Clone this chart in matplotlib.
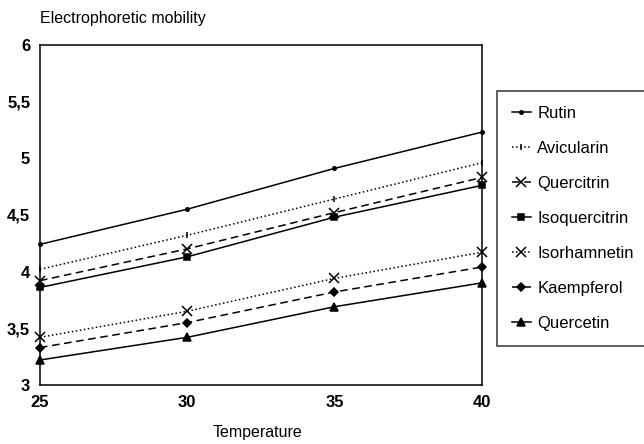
import matplotlib
matplotlib.use("Agg")
import matplotlib.pyplot as plt

plt.rcParams['font.family'] = ['Liberation Sans', 'DejaVu Sans']

# Temperature values
temps = [25, 30, 35, 40]

# Electrophoretic mobility per compound
rutin = [4.24, 4.55, 4.91, 5.23]
avicularin = [4.02, 4.32, 4.64, 4.96]
quercitrin = [3.92, 4.20, 4.52, 4.83]
isoquercitrin = [3.86, 4.13, 4.48, 4.76]
isorhamnetin = [3.42, 3.65, 3.94, 4.17]
kaempferol = [3.33, 3.55, 3.82, 4.04]
quercetin = [3.22, 3.42, 3.69, 3.90]

names = ["Rutin", "Avicularin", "Quercitrin", "Isoquercitrin",
         "Isorhamnetin", "Kaempferol", "Quercetin"]
series = [rutin, avicularin, quercitrin, isoquercitrin,
          isorhamnetin, kaempferol, quercetin]

# style for each series: (linestyle, marker, markersize)
styles = [
    ("-", "o", 2.5),
    (":", "|", 5),
    ((0, (5, 3)), "x", 7),
    ("-", "s", 5),
    (":", "x", 7),
    ((0, (5, 3)), "D", 4.5),
    ("-", "^", 6),
]

fig = plt.figure(figsize=(6.44, 4.44), dpi=100)
ax = fig.add_axes([0.062, 0.133, 0.686, 0.766])

for name, vals, (ls, mk, ms) in zip(names, series, styles):
    ax.plot(temps, vals, color="black", lw=1.1, linestyle=ls,
            marker=mk, markersize=ms, markeredgewidth=1.1, label=name,
            clip_on=False)

ax.set_xlim(25, 40)
ax.set_ylim(3, 6)
ax.set_xticks([25, 30, 35, 40])
ax.set_yticks([3, 3.5, 4, 4.5, 5, 5.5, 6])
ax.set_yticklabels(["3", "3,5", "4", "4,5", "5", "5,5", "6"])
ax.tick_params(length=0, labelsize=12, pad=7)
for lab in ax.get_xticklabels() + ax.get_yticklabels():
    lab.set_fontweight("bold")
for sp in ax.spines.values():
    sp.set_linewidth(1.1)

fig.text(0.062, 0.958, "Electrophoretic mobility", fontsize=11.5,
         ha="left", va="center")
fig.text(0.40, 0.027, "Temperature", fontsize=11.5, ha="center", va="center")

leg = fig.legend(loc="upper left", bbox_to_anchor=(0.772, 0.795),
                 frameon=True, fancybox=False, edgecolor="black",
                 fontsize=12, handlelength=1.1, handletextpad=0.4,
                 labelspacing=1.2, borderpad=0.9, borderaxespad=0)
leg.get_frame().set_linewidth(1.1)

fig.savefig("out.png", dpi=100)
